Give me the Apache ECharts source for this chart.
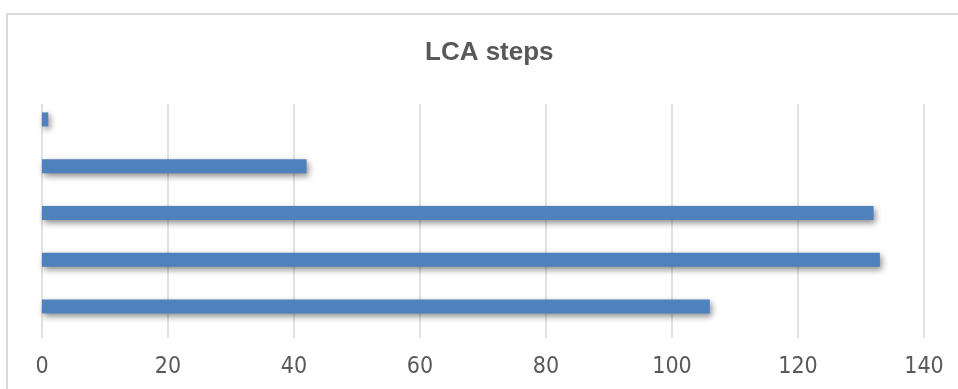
<!DOCTYPE html>
<html>
<head>
<meta charset="utf-8">
<script src="https://cdn.jsdelivr.net/npm/echarts@6/dist/echarts.min.js"></script>
<style>
  html, body { margin: 0; padding: 0; background: #ffffff; }
  #chart { width: 958px; height: 389px; }
</style>
</head>
<body>
<div id="chart"></div>
<script>
// LCA steps, listed bottom to top as drawn on the category axis
const steps = ['Step 5', 'Step 4', 'Step 3', 'Step 2', 'Step 1'];
const stepValues = [106, 133, 132, 42, 1];
const valueTicks = [0, 20, 40, 60, 80, 100, 120, 140];

const axisMin = valueTicks[0];
const axisMax = valueTicks[valueTicks.length - 1];
const axisStep = valueTicks[1] - valueTicks[0];

const chart = echarts.init(document.getElementById('chart'), null, { renderer: 'canvas' });

const labelFont = '"DejaVu Sans Condensed", "Noto Sans", sans-serif';

chart.setOption({
  animation: false,
  backgroundColor: '#ffffff',
  title: {
    text: 'LCA steps',
    left: 425,
    top: 40,
    padding: 0,
    textStyle: {
      fontFamily: '"Liberation Sans", Arial, sans-serif',
      fontWeight: 'bold',
      fontSize: 26,
      color: '#595959'
    }
  },
  graphic: [{
    type: 'rect',
    silent: true,
    shape: { x: 7, y: 14, width: 1000, height: 420 },
    style: { fill: 'none', stroke: '#d9d9d9', lineWidth: 2 }
  }],
  grid: [
    // bars
    { left: 42, right: 34, top: 96, bottom: 59, containLabel: false },
    // value scale: gridlines and tick labels
    { left: 42, right: 34, top: 104, bottom: 51, containLabel: false }
  ],
  xAxis: [
    {
      gridIndex: 0, type: 'value', min: axisMin, max: axisMax, interval: axisStep,
      axisLine: { show: false }, axisTick: { show: false },
      axisLabel: { show: false }, splitLine: { show: false }
    },
    {
      gridIndex: 1, type: 'value', min: axisMin, max: axisMax, interval: axisStep,
      axisLine: { show: false }, axisTick: { show: false },
      axisLabel: {
        margin: 18,
        fontFamily: labelFont,
        fontSize: 23,
        color: '#595959'
      },
      splitLine: { show: true, lineStyle: { color: '#d9d9d9', width: 1.5 } }
    }
  ],
  yAxis: [
    {
      gridIndex: 0, type: 'category', data: steps,
      axisLine: { show: false }, axisTick: { show: false },
      axisLabel: { show: false }, splitLine: { show: false }
    },
    {
      gridIndex: 1, type: 'category', data: steps,
      axisLine: { show: false }, axisTick: { show: false },
      axisLabel: { show: false }, splitLine: { show: false }
    }
  ],
  series: [{
    type: 'bar',
    xAxisIndex: 0,
    yAxisIndex: 0,
    data: stepValues,
    barWidth: 14,
    z: 3,
    itemStyle: {
      color: '#4f81bd',
      shadowColor: 'rgba(0, 0, 0, 0.45)',
      shadowBlur: 6,
      shadowOffsetX: 2,
      shadowOffsetY: 3
    }
  }]
});
</script>
</body>
</html>
